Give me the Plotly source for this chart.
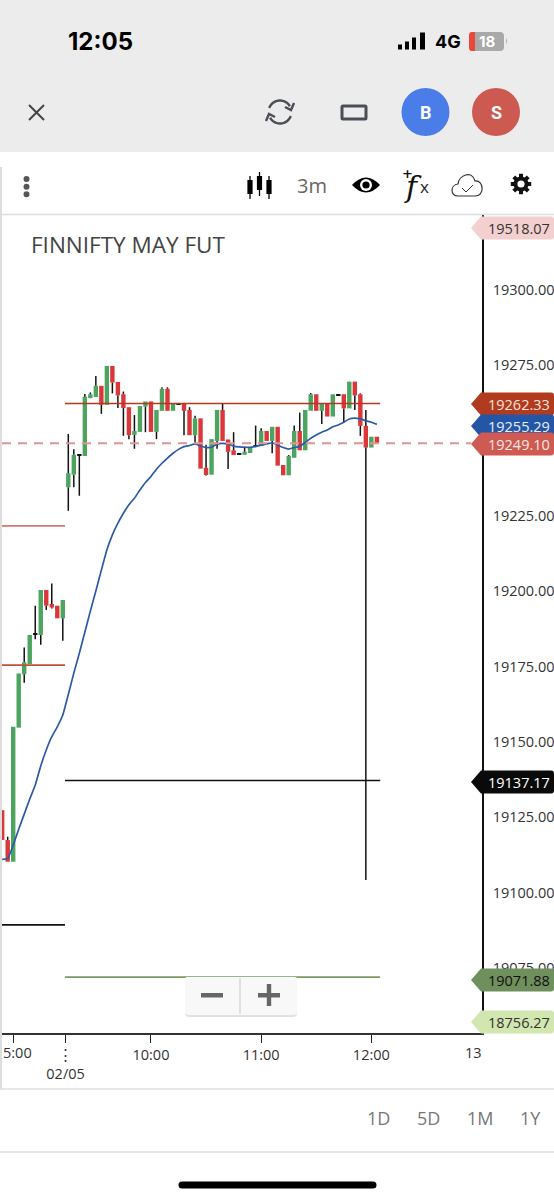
import math, re
import plotly.graph_objects as go

# ---------- data (prices) ----------
candle_index = list(range(-12, 57))
opens = [19127.3,19117.4,19110.2,19154.7,19172.4,19175.8,19185.6,19185.5,19200.4,19195.8,19195.2,19191.0,
 19234.5,19238.7,19245.0,19244.9,19264.1,19264.5,19268.2,19261.9,19274.8,19269.5,19265.4,19261.1,19251.9,19252.9,19261.3,19263.0,
 19252.9,19259.9,19267.2,19259.9,19262.1,19262.2,19260.2,19251.8,19257.4,19241.0,19238.7,19249.9,19260.2,19250.4,19246.8,19245.5,
 19245.3,19245.9,19248.0,19248.2,19253.2,19249.9,19254.6,19241.9,19238.5,19244.3,19253.2,19246.8,19259.9,19265.4,19259.9,19262.4,
 19258.0,19265.1,19265.4,19260.7,19269.6,19265.4,19254.9,19247.7,19251.3]
closes = [19117.4,19110.2,19155.0,19172.7,19176.4,19185.5,19186.0,19200.4,19195.2,19194.6,19191.0,19197.1,
 19239.2,19245.3,19245.4,19264.6,19265.4,19268.2,19261.9,19274.8,19269.3,19265.0,19260.8,19251.8,19253.2,19261.5,19263.0,19252.9,
 19260.2,19267.2,19259.9,19262.2,19261.9,19259.9,19251.8,19257.4,19240.7,19238.6,19250.5,19260.2,19249.9,19246.3,19245.2,19245.9,
 19246.3,19247.9,19248.4,19253.2,19249.9,19254.6,19241.7,19238.5,19244.9,19253.2,19246.8,19260.2,19265.4,19259.9,19262.4,19258.0,
 19265.4,19265.3,19260.7,19269.6,19265.0,19254.9,19247.7,19251.3,19249.1]
highs = [19127.3,19118.5,19155.0,19172.7,19181.3,19185.5,19195.2,19200.4,19200.4,19202.6,19195.2,19197.1,
 19252.2,19247.1,19245.4,19265.5,19266.0,19271.5,19268.2,19274.8,19274.8,19269.5,19266.3,19261.1,19258.5,19261.5,19263.0,19263.0,
 19260.2,19267.7,19267.7,19262.2,19262.1,19262.2,19261.1,19258.3,19257.4,19248.6,19250.5,19260.2,19262.4,19250.4,19252.8,19245.9,
 19248.0,19247.9,19255.0,19254.1,19253.2,19254.6,19254.6,19241.9,19245.2,19255.0,19259.3,19260.2,19265.8,19265.4,19262.4,19262.4,
 19265.4,19265.4,19265.4,19269.6,19269.6,19265.7,19260.2,19251.3,19251.3]
lows = [19117.4,19110.2,19110.2,19154.7,19169.6,19175.8,19184.1,19182.2,19193.8,19194.3,19191.0,19183.6,
 19226.7,19234.5,19231.7,19244.9,19264.1,19264.5,19258.9,19261.9,19265.7,19260.8,19251.6,19250.5,19247.3,19252.9,19252.8,19252.9,
 19250.5,19259.9,19259.9,19259.9,19261.9,19251.8,19251.8,19248.6,19240.7,19238.4,19238.7,19247.3,19249.9,19240.6,19245.2,19245.5,
 19245.3,19245.9,19247.8,19248.2,19249.9,19245.8,19241.7,19238.5,19238.5,19244.3,19246.8,19246.8,19259.9,19259.9,19255.5,19258.0,
 19258.0,19265.1,19256.1,19260.7,19260.2,19251.6,19104.1,19247.7,19249.1]
trend = [19111.0,19111.3,19115.7,19121.0,19126.0,19131.0,19135.7,19142.0,19147.3,19151.7,19155.0,19158.9,
 19165.7,19172.8,19179.4,19186.4,19193.4,19200.1,19207.0,19213.7,19218.7,19222.6,19225.9,19228.7,19230.9,19233.6,19236.1,19238.1,
 19240.5,19242.5,19244.2,19245.8,19247.1,19248.0,19248.4,19248.9,19248.2,19247.7,19247.8,19248.9,19249.1,19248.9,19248.2,19247.9,
 19247.8,19247.8,19248.1,19248.5,19248.9,19249.3,19248.5,19247.7,19247.2,19247.7,19248.1,19249.4,19250.8,19251.9,19252.8,19253.5,
 19254.6,19255.2,19256.1,19257.2,19257.5,19257.2,19256.6,19256.1,19255.4]

prior_levels = [(19221.7, "#D9776C"), (19175.5, "#C0503A"), (19089.2, "#111111")]
today_levels = [(19262.33, "#B5371E"), (19137.17, "#111111"), (19071.88, "#7A9B63")]
last_price = 19249.10
price_ticks = [19075, 19100, 19125, 19150, 19175, 19200, 19225, 19250, 19275, 19300]
time_tick_pos = [-10, -0.5, 15, 35, 55]
time_tick_txt = ["", "⋮<br>02/05", "10:00", "11:00", "12:00"]
price_labels = [
    ("19518.07", 228, "#F4CFCF", "#333333"),
    ("19262.33", 404, "#B23A1E", "#F8E6DC"),
    ("19255.29", 426, "#2456A8", "#E8EEF8"),
    ("19249.10", 444, "#CF5A52", "#FBE8E6"),
    ("19137.17", 782, "#0A0A0A", "#FFFFFF"),
    ("19071.88", 980, "#6F8F5C", "#111111"),
    ("18756.27", 1022, "#D2E6B0", "#333333"),
]
GREEN, RED = "#4CA45F", "#D9373A"

# ---------- page geometry ----------
W, H = 554, 1200
PLOT_L, PLOT_R, PLOT_T, PLOT_B = 2, 482, 215, 1033
X = lambda p: p / W
Y = lambda p: 1 - p / H

def pth(s):
    toks = re.findall(r"[A-Za-z]|-?[\d.]+", s)
    out, is_x = [], True
    for t in toks:
        if t.isalpha():
            out.append(t); is_x = True
        else:
            out.append(f"{X(float(t)):.5f}" if is_x else f"{Y(float(t)):.5f}")
            is_x = not is_x
    return " ".join(out)

shapes, notes = [], []
def path(s, fill=None, line=None, w=0):
    shapes.append(dict(type="path", xref="paper", yref="paper", path=pth(s), layer="above",
                       fillcolor=fill or "rgba(0,0,0,0)",
                       line=dict(color=line or "rgba(0,0,0,0)", width=w)))
def rect(x0, y0, x1, y1, fill, line=None, w=0, layer="above"):
    shapes.append(dict(type="rect", xref="paper", yref="paper", x0=X(x0), x1=X(x1), y0=Y(y0), y1=Y(y1),
                       fillcolor=fill, layer=layer, line=dict(color=line or "rgba(0,0,0,0)", width=w)))
def seg(x0, y0, x1, y1, col, w):
    shapes.append(dict(type="line", xref="paper", yref="paper", x0=X(x0), x1=X(x1), y0=Y(y0), y1=Y(y1),
                       layer="above", line=dict(color=col, width=w)))
def circ(cx, cy, r, fill, line=None, w=0):
    shapes.append(dict(type="circle", xref="paper", yref="paper", x0=X(cx-r), x1=X(cx+r), y0=Y(cy+r), y1=Y(cy-r),
                       layer="above", fillcolor=fill, line=dict(color=line or "rgba(0,0,0,0)", width=w)))
def text(x, y, s, size, col, anchor="center", fam="Open Sans", bold=False):
    notes.append(dict(xref="paper", yref="paper", x=X(x), y=Y(y), text=f"<b>{s}</b>" if bold else s,
                      showarrow=False, xanchor=anchor, yanchor="middle", borderpad=0,
                      font=dict(family=fam, size=size, color=col)))
def arc(cx, cy, r, a0, a1, n=14):
    pts = [(cx + r*math.cos(math.radians(a0+(a1-a0)*k/n)), cy + r*math.sin(math.radians(a0+(a1-a0)*k/n))) for k in range(n+1)]
    return "M " + " L ".join(f"{a:.2f} {b:.2f}" for a, b in pts)

# ---------- page chrome ----------
rect(0, 0, W, 152, "#ECECEC", layer="below")
text(67, 41.5, "12:05", 24, "#000000", "left", "Inter", True)
for bx, bh in [(398, 5), (405, 8), (412, 12), (420, 17)]:
    rect(bx, 49.5-bh, bx+(5 if bx == 420 else 4), 49.5, "#000000")
text(434, 41.5, "4G", 18, "#000000", "left", "Inter", True)
path("M 472 32 L 500 32 Q 504 32 504 36 L 504 47 Q 504 51 500 51 L 472 51 Q 469 51 469 47 L 469 36 Q 469 32 472 32 Z", "#A9A9A9")
path("M 472 32 L 475 32 L 475 51 L 472 51 Q 469 51 469 47 L 469 36 Q 469 32 472 32 Z", "#E9483A")
path("M 506 38 Q 508 41 506 44 Z", "#A9A9A9")
text(487, 41.5, "18", 15, "#FFFFFF", "center", "Inter", True)
seg(29, 105, 44, 120, "#444444", 2); seg(44, 105, 29, 120, "#444444", 2)
# refresh
path(arc(280, 112, 11.5, 200, 330), None, "#4A4F57", 2.4)
path(arc(280, 112, 11.5, 20, 150), None, "#4A4F57", 2.4)
path("M 294 103 L 291 110 L 285 107", None, "#4A4F57", 2.4)
path("M 266 121 L 269 114 L 275 117", None, "#4A4F57", 2.4)
path("M 343 106 L 365 106 Q 366 106 366 107 L 366 118 Q 366 119 365 119 L 343 119 Q 342 119 342 118 L 342 107 Q 342 106 343 106 Z", None, "#4A4F57", 3)
circ(425.5, 112, 24, "#4A7DE8"); text(425.5, 112, "B", 18, "#FFFFFF", "center", "Roboto", True)
circ(496, 112, 24, "#CD5A50"); text(496, 112, "S", 18, "#FFFFFF", "center", "Roboto", True)
rect(0, 152, W, 214, "#FFFFFF", layer="below")
seg(0, 214.5, W, 214.5, "#DEDEDE", 1.5)
rect(0, 167, 2, 1089, "#DDDDDD")
for dy in (179, 186.7, 194.3):
    circ(26.5, dy, 3, "#555555")
for cx, t, b, wt, wb in [(250, 180, 194, 176, 199), (259.5, 176, 190, 172, 196), (269, 180, 194, 176, 199)]:
    seg(cx, wt, cx, wb, "#000000", 1.3)
    rect(cx-2.6, t, cx+2.6, b, "#000000")
text(312, 185, "3m", 20, "#666666")
path("M 352 185 Q 366 170 380 185 Q 366 200 352 185 Z", "#000000")
circ(366, 185, 6, "#FFFFFF"); circ(366, 185, 3.6, "#000000")
text(407, 173, "+", 13, "#111111", "center", "DejaVu Sans", True)
text(413, 186, "<i>f</i>", 30, "#111111", "center", "DejaVu Serif")
text(424, 186, "x", 17, "#222222", "center", "Open Sans")
path("M 458 196 C 450 196 450 185 458 184 C 459 175 472 170 475 181 C 484 180 485 196 475 196 Z", None, "#333333", 1.2)
path("M 462 188 L 466 192 L 473 185", None, "#333333", 1)
g = []
for k in range(8):
    a = k * 45
    for da, r in [(-15, 7.6), (-11, 10.4), (11, 10.4), (15, 7.6)]:
        g.append((521 + r*math.cos(math.radians(a+da)), 184 + r*math.sin(math.radians(a+da))))
path("M " + " L ".join(f"{a:.2f} {b:.2f}" for a, b in g) + " Z", "#111111")
circ(521, 184, 3.6, "#FFFFFF")
text(30, 245, "FINNIFTY MAY FUT", 22.5, "#444444", "left")

# bottom chrome
seg(0, 1089, W, 1089, "#DEDEDE", 1.5)
seg(0, 1152, W, 1152, "#DEDEDE", 1.5)
for cx, s in [(378, "1D"), (428, "5D"), (480, "1M"), (530, "1Y")]:
    text(cx, 1118, s, 18, "#777777")
path("M 182 1181.5 L 373 1181.5 Q 376.5 1181.5 376.5 1185 Q 376.5 1188.5 373 1188.5 L 182 1188.5 Q 178.5 1188.5 178.5 1185 Q 178.5 1181.5 182 1181.5 Z", "#000000")
text(473, 1052, "13", 14.5, "#333333")
text(2, 1052, "5:00", 14.5, "#333333", "left")

# zoom buttons
path("M 187 978 L 295 978 Q 297 978 297 980 L 297 1013 Q 297 1017 293 1017 L 189 1017 Q 185 1017 185 1013 L 185 980 Q 185 978 187 978 Z", "#E2E2E2")
path("M 187 977 L 295 977 Q 297 977 297 979 L 297 1012 Q 297 1015 293 1015 L 189 1015 Q 185 1015 185 1012 L 185 979 Q 185 977 187 977 Z", "#F8F8F8")
seg(240, 978, 240, 1014, "#E0E0E0", 2)
rect(201, 993, 223, 997.5, "#666666")
rect(258, 993, 280, 997.5, "#666666"); rect(266.8, 984, 271.2, 1006, "#666666")

# price flags
for s, yc, fill, col in price_labels:
    t, b = yc-11.5, yc+11.5
    path(f"M 471 {yc} L 481 {t} L 551 {t} Q 554 {t} 554 {t+3} L 554 {b-3} Q 554 {b} 551 {b} L 481 {b} Z", fill)
for s, yc, fill, col in price_labels:
    text(551, yc+0.5, s, 14.5, col, "right")

# last-price dashed line, reaching to the flag
shapes.insert(0, dict(type="line", xref="paper", yref="y", x0=X(2), x1=X(471), y0=last_price, y1=last_price,
                      layer="above", line=dict(color="#E09490", width=2, dash="9px,7px")))

# ---------- traces ----------
body_colors = []
bases, heights = [], []
wx, wy = [], []
for i, o, h, l, c in zip(candle_index, opens, highs, lows, closes):
    top, bot = max(o, c), min(o, c)
    if top - bot < 0.7:
        body_colors.append("#111111")
    else:
        body_colors.append(GREEN if c > o else RED)
    bases.append(bot); heights.append(top - bot)
    wx += [i, i, None, i, i, None]
    wy += [h, top, None, bot, l, None]

fig = go.Figure()
fig.add_trace(go.Bar(x=candle_index, y=heights, base=bases, width=0.8,
                     marker=dict(color=body_colors, line=dict(width=0)), hoverinfo="skip"))
fig.add_trace(go.Scatter(x=wx, y=wy, mode="lines", line=dict(color="#111111", width=1.5), hoverinfo="skip"))
LEFT_END, SPLIT, RIGHT_END = -12.1, -0.6, 56.6
for v, col in prior_levels:
    fig.add_trace(go.Scatter(x=[LEFT_END, SPLIT], y=[v, v], mode="lines", line=dict(color=col, width=1.7), hoverinfo="skip"))
for v, col in today_levels:
    fig.add_trace(go.Scatter(x=[SPLIT, RIGHT_END], y=[v, v], mode="lines", line=dict(color=col, width=1.7), hoverinfo="skip"))
fig.add_trace(go.Scatter(x=candle_index, y=trend, mode="lines", line=dict(color="#2B5AA6", width=1.7, shape="spline", smoothing=0.5), hoverinfo="skip"))

PX_PER_I, PX0 = 5.51, 68.3
PX_PER_PT = 3.012
fig.update_layout(
    width=W, height=H, margin=dict(l=0, r=0, t=0, b=0), showlegend=False,
    paper_bgcolor="#FFFFFF", plot_bgcolor="#FFFFFF", barmode="overlay",
    shapes=shapes, annotations=notes,
    font=dict(family="Open Sans", color="#333333"),
    xaxis=dict(domain=[X(PLOT_L), X(PLOT_R)], range=[(PLOT_L-PX0)/PX_PER_I, (PLOT_R-PX0)/PX_PER_I],
               tickmode="array", tickvals=time_tick_pos, ticktext=time_tick_txt, showgrid=False, zeroline=False,
               showline=True, linecolor="#333333", linewidth=1.5, ticks="outside", ticklen=8, tickcolor="#222222",
               tickwidth=1.2, tickangle=0, tickfont=dict(family="Open Sans", size=14.5, color="#333333"), fixedrange=True),
    yaxis=dict(domain=[Y(PLOT_B), Y(PLOT_T)], side="right",
               range=[19262.33-(PLOT_B-403.5)/PX_PER_PT, 19262.33+(403.5-PLOT_T)/PX_PER_PT],
               tickmode="array", tickvals=price_ticks, tickformat=".2f", showgrid=False, zeroline=False,
               showline=True, linecolor="#111111", linewidth=1.5, ticks="outside", ticklen=6,
               tickcolor="rgba(0,0,0,0)", tickfont=dict(family="Open Sans", size=14.5, color="#333333"), fixedrange=True),
)
fig.write_html("out.html", config=dict(displayModeBar=False),
               post_script="document.body.style.margin='0';document.documentElement.style.overflow='hidden';")
